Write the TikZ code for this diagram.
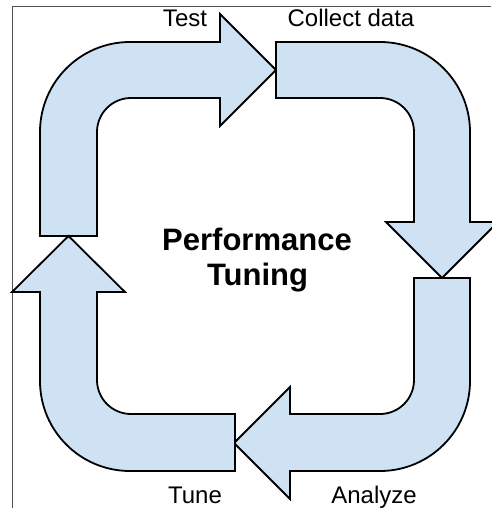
\documentclass[tikz,border=0pt]{standalone}
\usepackage{fontspec}
\setmainfont{Liberation Sans}
\definecolor{arrowfill}{HTML}{CFE2F3}
\definecolor{framegray}{HTML}{505050}
\begin{document}
\begin{tikzpicture}[x=1pt,y=-1pt,
  bigarrow/.style={draw=black, fill=arrowfill, line width=1.8pt, line join=miter},
  steplabel/.style={font=\fontsize{24}{28}\selectfont, anchor=base, inner sep=0pt},
  titletext/.style={font=\fontsize{31}{35}\selectfont\bfseries, anchor=base, inner sep=0pt}]
\useasboundingbox (0,0) rectangle (491,508);
\fill[white] (0,0) rectangle (491,508);
% frame (top and left edges)
\draw[framegray, line width=1pt] (12,508) -- (12,7) -- (491,7);
% Test arrow (top-left)
\path[bigarrow] (40,236) -- (40,132) arc (180:270:90) -- (220,42) -- (220,14) -- (276,70)
  -- (220,126) -- (220,98) -- (131,98) arc (270:180:34) -- (97,236) -- cycle;
% Collect data arrow (top-right)
\path[bigarrow] (276,42) -- (380,42) arc (270:360:90) -- (470,222) -- (498,222) -- (442,278)
  -- (386,222) -- (414,222) -- (414,132) arc (0:-90:34) -- (276,98) -- cycle;
% Analyze arrow (bottom-right)
\path[bigarrow] (470,278) -- (470,381) arc (0:90:90) -- (290,471) -- (290,499) -- (234,443)
  -- (290,387) -- (290,414) -- (380,414) arc (90:0:34) -- (414,278) -- cycle;
% Tune arrow (bottom-left)
\path[bigarrow] (235,414) -- (131,414) arc (90:180:34) -- (97,292) -- (125,292) -- (68.5,236)
  -- (12,292) -- (40,292) -- (40,381) arc (180:90:90) -- (235,471) -- cycle;
% labels
\node[steplabel] (test) at (185,27) {Test};
\node[steplabel] (collect) at (351,27) {Collect data};
\node[steplabel] (tune) at (195,503) {Tune};
\node[steplabel] (analyze) at (374,503) {Analyze};
\node[titletext] (title1) at (257,250) {Performance};
\node[titletext] (title2) at (257.5,285) {Tuning};
\end{tikzpicture}
\end{document}
